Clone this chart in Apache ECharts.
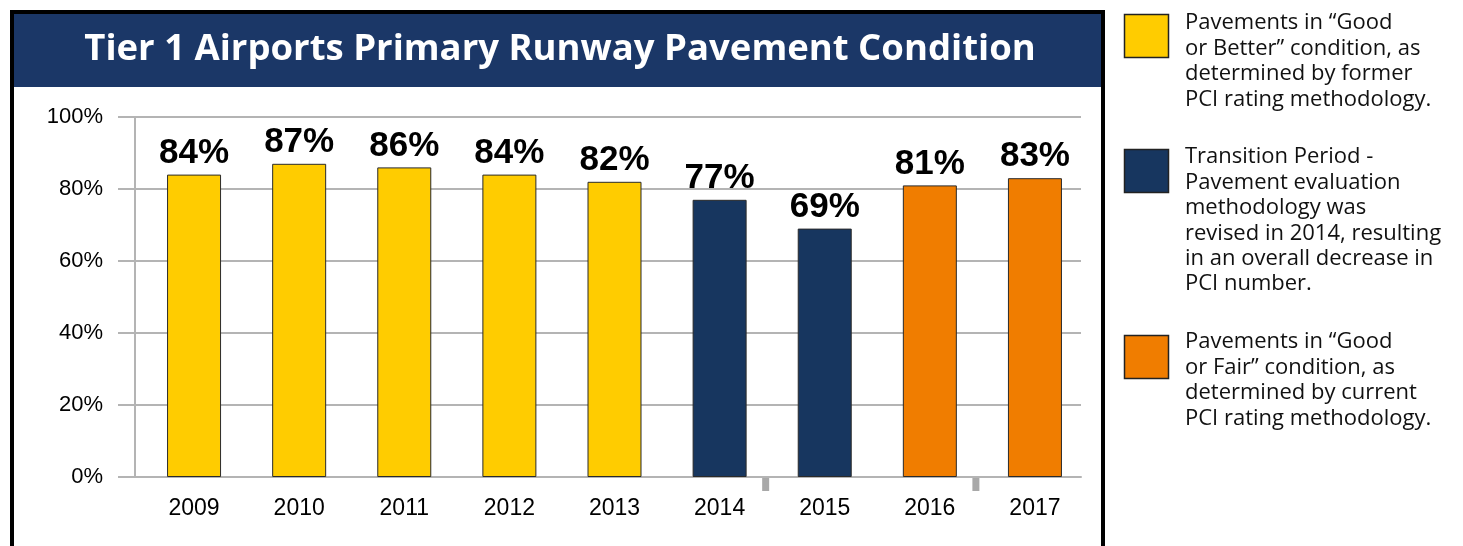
<!DOCTYPE html>
<html>
<head>
<meta charset="utf-8">
<script src="https://cdn.jsdelivr.net/npm/echarts@6/dist/echarts.min.js"></script>
<style>
  html, body { margin: 0; padding: 0; background: #fff; }
  #chart-container { width: 1463px; height: 546px; }
</style>
</head>
<body>
<div id="chart-container"></div>
<script>
window.addEventListener("load", function() {

// data
const years = ['2009', '2010', '2011', '2012', '2013', '2014', '2015', '2016', '2017'];
const formerPCI = [84, 87, 86, 84, 82, null, null, null, null];
const transition = [null, null, null, null, null, 77, 69, null, null];
const currentPCI = [null, null, null, null, null, null, null, 81, 83];
const yTicks = [0, 20, 40, 60, 80, 100];
// break markers sit between these pairs of years
const breaks = [['2014', '2015'], ['2016', '2017']];

const legendTexts = [
    'Pavements in \u201cGood\nor Better\u201d condition, as\ndetermined by former\nPCI rating methodology.',
    'Transition Period -\nPavement evaluation\nmethodology was\nrevised in 2014, resulting\nin an overall decrease in\nPCI number.',
    'Pavements in \u201cGood\nor Fair\u201d condition, as\ndetermined by current\nPCI rating methodology.'
];
const colors = ['#FFCC00', '#17365F', '#F07D00'];

const dom = document.getElementById('chart-container');
const myChart = echarts.init(dom, null, { renderer: 'canvas', useDirtyRect: false });

const gridLine = '#B4B4B4';
const legendTops = [14, 149, 335];
const textTops = [10.5, 144.5, 329.5];
const yMin = yTicks[0], yMax = yTicks[yTicks.length - 1], yStep = yTicks[1] - yTicks[0];

function barSeries(name, data, color) {
    return {
        name: name,
        type: 'bar',
        stack: 'all',
        xAxisIndex: 1,
        yAxisIndex: 1,
        barWidth: 54,
        data: data,
        itemStyle: { color: color, borderColor: '#2a2a2a', borderWidth: 1 },
        label: {
            show: true,
            position: 'top',
            distance: 4,
            formatter: function (p) { return p.value + '%'; },
            fontFamily: 'Liberation Sans, Arial',
            fontWeight: 'bold',
            fontSize: 35,
            color: '#000'
        }
    };
}

const graphics = [
    // outer frame and title band
    { type: 'rect', z: -10, shape: { x: 14, y: 14, width: 1087, height: 73 }, style: { fill: '#1B3767' } },
    { type: 'rect', z: 10, shape: { x: 12, y: 12, width: 1091, height: 560 }, style: { fill: 'none', stroke: '#000', lineWidth: 4 } }
];
legendTexts.forEach(function (t, i) {
    graphics.push({ type: 'rect', shape: { x: 1124.5, y: legendTops[i] + 0.5, width: 44, height: 43 },
        style: { fill: colors[i], stroke: '#222', lineWidth: 1.5 } });
    graphics.push({ type: 'text', x: 1185, y: textTops[i],
        style: { text: t, fill: '#111', font: '22px "Open Sans"', lineHeight: 25.4, verticalAlign: 'top' } });
});

const option = {
    animation: false,
    title: {
        text: 'Tier 1 Airports Primary Runway Pavement Condition',
        left: 555,
        textAlign: 'center',
        top: 26,
        textStyle: { color: '#fff', fontFamily: 'Open Sans', fontWeight: 'bold', fontSize: 36.5 }
    },
    // grid 0 draws the axis frame, grid 1 holds the bars (sit a little right of the category centre)
    grid: [
        { left: 135, right: 382, top: 117, bottom: 69 },
        { left: 141.5, right: 375.5, top: 117, bottom: 69 }
    ],
    xAxis: [{
        type: 'category',
        gridIndex: 0,
        data: years,
        axisLine: { lineStyle: { color: gridLine, width: 2 } },
        axisTick: { length: 13, lineStyle: { color: gridLine, width: 2 } },
        axisLabel: { show: false }
    }, {
        type: 'category',
        gridIndex: 1,
        data: years,
        axisLine: { show: false },
        axisTick: { show: false },
        axisLabel: { color: '#000', fontFamily: 'Liberation Sans, Arial', fontSize: 23, margin: 20 }
    }],
    yAxis: [{
        type: 'value',
        gridIndex: 0,
        min: yMin, max: yMax, interval: yStep,
        axisLine: { show: true, lineStyle: { color: gridLine, width: 2 } },
        axisTick: { show: true, length: 17, lineStyle: { color: gridLine, width: 2 } },
        splitLine: { lineStyle: { color: gridLine, width: 2 } },
        axisLabel: { color: '#000', fontFamily: 'Liberation Sans, Arial', fontSize: 22, margin: 32, formatter: '{value}%' }
    }, {
        type: 'value',
        gridIndex: 1,
        min: yMin, max: yMax, interval: yStep,
        show: false
    }],
    series: [
        barSeries('Former PCI', formerPCI, colors[0]),
        barSeries('Transition', transition, colors[1]),
        barSeries('Current PCI', currentPCI, colors[2])
    ],
    graphic: graphics
};

myChart.setOption(option, true);

// gray break markers under the axis, placed from the category scale
const y0 = myChart.convertToPixel({ yAxisIndex: 0 }, 0);
breaks.forEach(function (b) {
    const xa = myChart.convertToPixel({ xAxisIndex: 0 }, b[0]);
    const xb = myChart.convertToPixel({ xAxisIndex: 0 }, b[1]);
    graphics.push({ type: 'rect', shape: { x: (xa + xb) / 2 - 3.5, y: y0, width: 7, height: 14 }, style: { fill: '#A8A8A8' } });
});
myChart.setOption({ graphic: graphics });

});
</script>
</body>
</html>
